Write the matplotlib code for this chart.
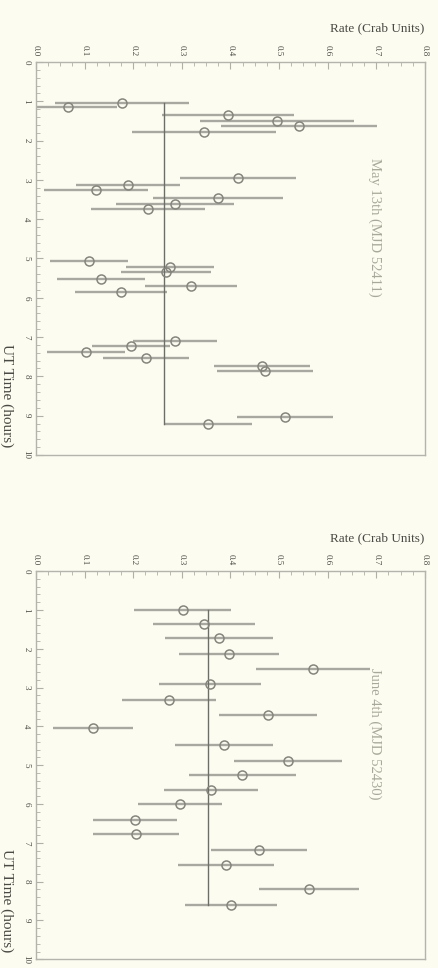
import numpy as np
import matplotlib.pyplot as plt
from matplotlib.ticker import MultipleLocator

# May 13th light curve: UT time (h), rate (Crab), 1-sigma error
may_time = [1.04, 1.15, 1.35, 1.50, 1.63, 1.78,
            2.95, 3.13, 3.26, 3.46, 3.61, 3.74,
            5.06, 5.22, 5.34, 5.52, 5.70, 5.85,
            7.10, 7.23, 7.38, 7.53, 7.74, 7.86,
            9.03, 9.21]
may_rate = [0.177, 0.066, 0.395, 0.496, 0.541, 0.346,
            0.416, 0.189, 0.123, 0.374, 0.286, 0.230,
            0.109, 0.276, 0.267, 0.134, 0.319, 0.175,
            0.286, 0.195, 0.103, 0.226, 0.465, 0.471,
            0.512, 0.354]
may_err = [0.138, 0.100, 0.136, 0.158, 0.160, 0.148,
           0.119, 0.107, 0.107, 0.134, 0.121, 0.117,
           0.080, 0.090, 0.093, 0.090, 0.095, 0.095,
           0.086, 0.080, 0.080, 0.088, 0.099, 0.099,
           0.099, 0.090]
may_mean = 0.263

# June 4th light curve
jun_time = [0.99, 1.37, 1.72, 2.13, 2.53, 2.91, 3.32, 3.70, 4.05, 4.48,
            4.89, 5.24, 5.65, 6.00, 6.41, 6.78, 7.19, 7.57, 8.18, 8.61]
jun_rate = [0.302, 0.346, 0.376, 0.397, 0.570, 0.358, 0.274, 0.477, 0.117, 0.387,
            0.518, 0.424, 0.360, 0.296, 0.204, 0.206, 0.459, 0.391, 0.562, 0.401]
jun_err = [0.100, 0.105, 0.111, 0.103, 0.117, 0.105, 0.097, 0.101, 0.082, 0.100,
           0.111, 0.110, 0.096, 0.087, 0.087, 0.088, 0.098, 0.099, 0.103, 0.095]
jun_mean = 0.354

rate_ticks = [0.0, 0.1, 0.2, 0.3, 0.4, 0.5, 0.6, 0.7, 0.8]
time_ticks = list(range(0, 11))

bg = '#fdfcf1'
text_c = '#4a4a44'

plt.rcParams['font.family'] = ['Liberation Serif', 'DejaVu Serif']

fig = plt.figure(figsize=(4.38, 9.68), dpi=100, facecolor=bg)


def light_curve(ax, t, r, e, mean, label):
    ax.set_facecolor(bg)
    ax.errorbar(r, t, xerr=e, fmt='o', ms=6.5, mfc='none', mec='#85857d',
                mew=1.1, ecolor='#a8a8a0', elinewidth=1.7, capsize=0)
    ax.plot([mean, mean], [min(t), max(t)], color='#6e6e68', lw=1.0)
    ax.set_xlim(0, 0.8)
    ax.set_ylim(10, 0)
    ax.xaxis.tick_top()
    ax.set_xticks(rate_ticks)
    ax.set_xticklabels([f'{v:.1f}' for v in rate_ticks], rotation=270,
                       fontsize=6.5, color=text_c)
    ax.set_yticks(time_ticks)
    ax.set_yticklabels([str(v) for v in time_ticks], rotation=270,
                       va='center', fontsize=6.5, color=text_c)
    ax.xaxis.set_minor_locator(MultipleLocator(0.025))
    ax.yaxis.set_minor_locator(MultipleLocator(0.2))
    ax.tick_params(which='both', direction='in', color='#b0b0a8', pad=4)
    ax.tick_params(which='major', length=5)
    ax.tick_params(which='minor', length=3)
    for s in ax.spines.values():
        s.set_color('#b4b4ac')
        s.set_linewidth(1.0)
    ax.text(1.0, 1.085, 'Rate (Crab Units)', transform=ax.transAxes,
            ha='right', va='center', fontsize=9.5, color=text_c)
    ax.text(0.87, 0.58, label, transform=ax.transAxes, rotation=270,
            ha='center', va='center', fontsize=10.5, color='#a9a99a')
    ax.text(-0.075, 0.15, 'UT Time (hours)', transform=ax.transAxes,
            rotation=270, ha='center', va='center', fontsize=11,
            color=text_c)


ax1 = fig.add_axes([0.082, 0.530, 0.888, 0.406])
light_curve(ax1, may_time, may_rate, may_err, may_mean, 'May 13th (MJD 52411)')

ax2 = fig.add_axes([0.082, 0.009, 0.888, 0.401])
light_curve(ax2, jun_time, jun_rate, jun_err, jun_mean, 'June 4th (MJD 52430)')

fig.savefig('out.png', dpi=100, facecolor=bg)
